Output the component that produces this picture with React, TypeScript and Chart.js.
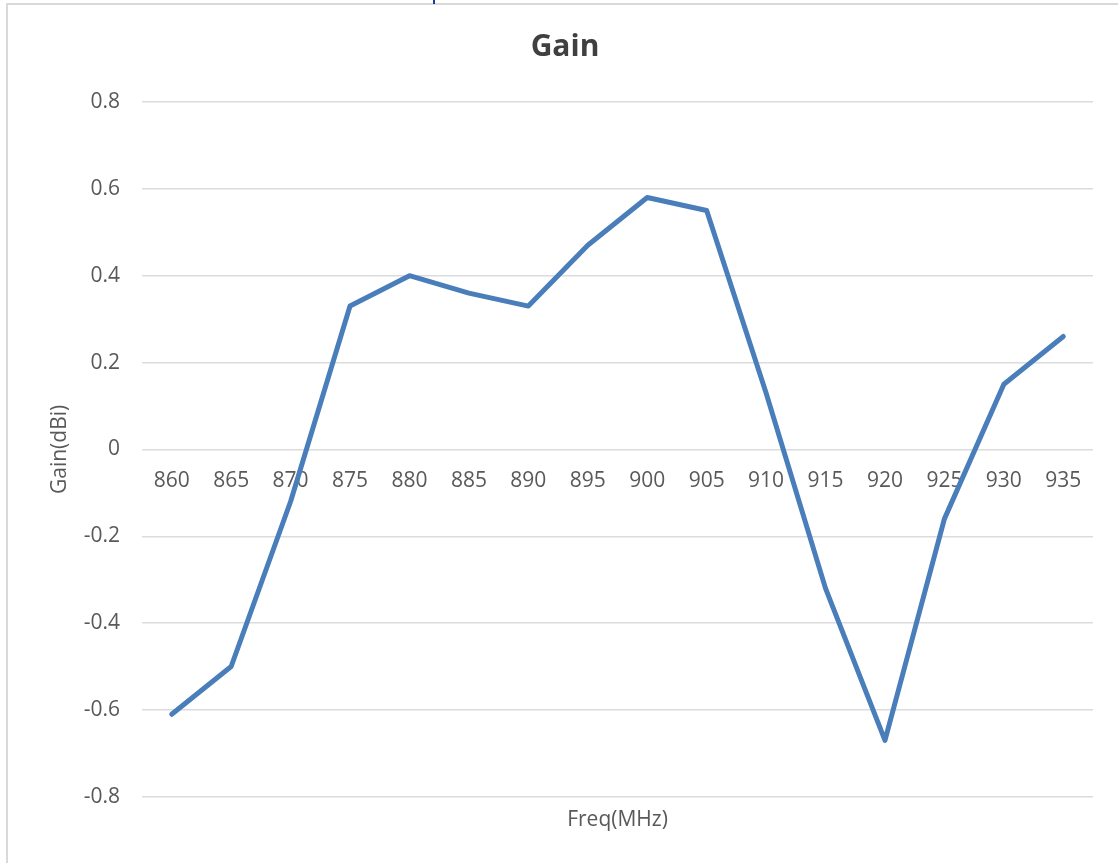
import React, { useEffect, useRef } from "react";
import { Chart, registerables } from "chart.js";

Chart.register(...registerables);

const categories = ["860", "865", "870", "875", "880", "885", "890", "895", "900", "905", "910", "915", "920", "925", "930", "935"];
const gainValues = [-0.61, -0.5, -0.12, 0.33, 0.4, 0.36, 0.33, 0.47, 0.58, 0.55, 0.13, -0.32, -0.67, -0.16, 0.15, 0.26];
const yTicks = [-0.8, -0.6, -0.4, -0.2, 0, 0.2, 0.4, 0.6, 0.8];

const FONT = "'Open Sans', 'Noto Sans', sans-serif";

export default function App() {
  const ref = useRef<HTMLCanvasElement | null>(null);

  useEffect(() => {
    if (!ref.current) return;
    const chart = new Chart(ref.current, {
      type: "line",
      data: {
        labels: categories,
        datasets: [
          {
            label: "Gain",
            data: gainValues,
            xAxisID: "x",
            yAxisID: "y",
            borderColor: "#4a7ebb",
            borderWidth: 5,
            pointRadius: 0,
            tension: 0,
            fill: false,
            borderJoinStyle: "round",
            borderCapStyle: "round",
          },
        ],
      },
      options: {
        animation: false,
        responsive: false,
        maintainAspectRatio: false,
        layout: { padding: { top: 29, bottom: 30, left: 37, right: 25 } },
        plugins: {
          legend: { display: false },
          tooltip: { enabled: false },
          title: {
            display: true,
            text: "Gain",
            color: "#404040",
            font: { family: FONT, size: 30, weight: "bold", lineHeight: 1.2 },
            padding: { top: 0, bottom: 37 },
          },
        },
        scales: {
          y: {
            type: "linear",
            position: "left",
            min: -0.8,
            max: 0.8,
            afterBuildTicks: (scale: any) => {
              scale.ticks = yTicks.map((v) => ({ value: v }));
            },
            afterFit: (scale: any) => {
              scale.width = 105;
            },
            ticks: {
              color: "#595959",
              font: { family: FONT, size: 21 },
              padding: 22,
              callback: (v: any) => Number(Number(v).toFixed(1)).toString(),
            },
            grid: { color: "#dcdcdc", lineWidth: 1.5, drawTicks: false },
            border: { display: false },
            title: {
              display: true,
              text: "Gain(dBi)",
              color: "#595959",
              font: { family: FONT, size: 21, lineHeight: 1.2 },
              padding: { top: 10, bottom: 0 },
            },
          },
          x: {
            type: "category",
            position: { y: 0 } as any,
            offset: true,
            grid: { display: false, drawTicks: false },
            border: { display: false },
            ticks: {
              color: "#595959",
              font: { family: FONT, size: 21 },
              padding: 19,
              maxRotation: 0,
              autoSkip: false,
            },
          },
          x2: {
            type: "category",
            position: "bottom",
            labels: categories,
            offset: true,
            grid: { display: false, drawTicks: false },
            border: { display: false },
            ticks: { display: false },
            title: {
              display: true,
              text: "Freq(MHz)",
              color: "#595959",
              font: { family: FONT, size: 21, lineHeight: 1.2 },
              padding: { top: 11, bottom: 0 },
            },
          },
        },
      },
    });
    return () => chart.destroy();
  }, []);

  return (
    <div style={{ position: "fixed", left: 0, top: 0, width: 1118, height: 863, overflow: "hidden", background: "#ffffff" }}>
      <div
        style={{
          position: "absolute",
          left: 6,
          top: 3,
          width: 1130,
          height: 880,
          border: "2px solid #d9d9d9",
          boxSizing: "border-box",
        }}
      />
      <div style={{ position: "absolute", left: 433, top: 0, width: 2, height: 4, background: "#1f3a93" }} />
      <canvas ref={ref} width={1118} height={863} style={{ position: "absolute", left: 0, top: 0, width: 1118, height: 863 }} />
    </div>
  );
}
